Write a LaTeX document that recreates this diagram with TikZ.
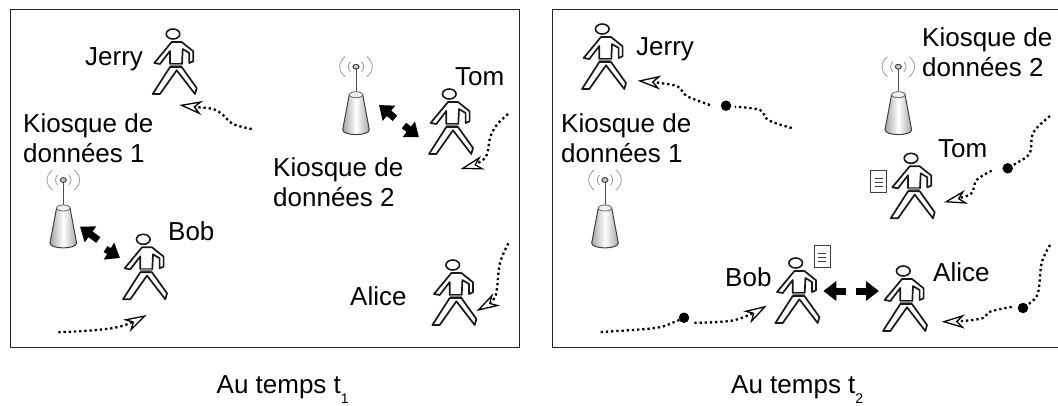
\documentclass[tikz,border=0pt]{standalone}
\usepackage{fontspec}
\setmainfont{Liberation Sans}
\usetikzlibrary{arrows.meta}
\tikzset{
  x=1pt,y=-1pt,
  label text/.style={inner sep=0pt,anchor=base west,align=left,font=\fontsize{26}{30}\selectfont},
  panel/.style={draw=black!85,line width=1pt},
  traj/.style={line width=2.3pt,dash pattern=on 2.3pt off 2.9pt,black,
    -{Stealth[open,fill=white,length=23pt,width=14pt,inset=7pt,line width=1.3pt]}},
  trajplain/.style={line width=2.3pt,dash pattern=on 2.3pt off 2.9pt,black},
  stop/.style={circle,fill=black,inner sep=0pt,minimum size=10.5pt},
  talk/.style={line width=7pt,black,-{Triangle[length=13pt,width=19pt]}},
  doc/.style={draw=black!75,fill=white,line width=1pt,minimum width=16pt,minimum height=22pt,inner sep=0pt,
    path picture={\foreach \yy in {-5.7,-1.7,2.7}
      \draw[black!75,line width=1.1pt] ([shift={(-4pt,\yy pt)}]path picture bounding box.center) -- ++(8pt,0pt);}},
  walker/.pic={
    \draw[black!90,line width=1.7pt,fill=white,line join=round]
      (-1.3,8) -- (8.7,8) -- (20.3,17.3) -- (20.3,27.3) -- (16.3,29) -- (16.3,19) -- (9.7,15)
      -- (9,30) -- (-3,30) -- (-3,17) -- (-13,30) -- (-18.7,29) -- cycle;
    \fill[black!50] (-3,29.5) rectangle (9,33);
    \draw[black!90,line width=1.7pt,fill=white,line join=round]
      (-3,33) -- (8.7,33) -- (23.7,54) -- (22,60) -- (3.7,36.3) -- (-13,60) -- (-20.3,60) -- cycle;
    \draw[black!90,line width=1.6pt,fill=white] (0,0) ellipse [x radius=6.8pt,y radius=5pt];
  },
  kiosk/.pic={
    \draw[black!40,line width=.8pt]
      (5.5,-5) .. controls (8.5,-2) and (8.5,2) .. (5.5,5)
      (-5.5,-5) .. controls (-8.5,-2) and (-8.5,2) .. (-5.5,5)
      (11,-10) .. controls (18,-4) and (18,4) .. (11,10)
      (-11,-10) .. controls (-18,-4) and (-18,4) .. (-11,10);
    \draw[black!70,line width=1pt] (0,2) -- (0,26);
    \draw[black!75,line width=1pt,fill=black!20] (0,0) ellipse [x radius=3pt,y radius=2.4pt];
    \draw[black!75,line width=1pt,left color=black!35,right color=black!35,middle color=white]
      (-6.7,28) -- (-13.3,63) .. controls (-13.3,69.5) and (13.3,69.5) .. (13.3,63) -- (6.7,28) -- cycle;
    \draw[black!60,line width=.8pt,fill=black!6] (0,28) ellipse [x radius=6.7pt,y radius=3pt];
  },
}
\begin{document}
\begin{tikzpicture}
\useasboundingbox (0,0) rectangle (1058,405);
\fill[white] (0,0) rectangle (1058,405);
% panels
\draw[panel] (10,9) rectangle (519,347);
\draw[panel] (1058,9) -- (552,9) -- (552,347) -- (1058,347);

% left panel people and kiosks
\pic (jerryA) at (173,34) {walker};
\pic (bobA) at (143.3,239.3) {walker};
\pic (tomA) at (449.3,94) {walker};
\pic (aliceA) at (452.7,265) {walker};
\pic (kioskOneA) at (63.3,180) {kiosk};
\pic (kioskTwoA) at (356,66.7) {kiosk};

% right panel people and kiosks
\pic (jerryB) at (602.3,29) {walker};
\pic (tomB) at (911,158.3) {walker};
\pic (bobB) at (795.7,263) {walker};
\pic (aliceB) at (903.3,271) {walker};
\pic (kioskOneB) at (605,180) {kiosk};
\pic (kioskTwoB) at (898.3,66.7) {kiosk};

% documents
\node[doc] (docBob) at (822.3,256) {};
\node[doc] (docTom) at (878.8,181) {};

% labels
\node[label text] (lJerryA) at (85,65) {Jerry};
\node[label text] (lTomA) at (455,85) {Tom};
\node[label text] (lBobA) at (168,240) {Bob};
\node[label text] (lAliceA) at (350,305) {Alice};
\node[label text] (lKioskOneA) at (23,132) {Kiosque de};
\node[label text] (lKioskOneA2) at (23,162) {données 1};
\node[label text] (lKioskTwoA) at (273,176) {Kiosque de};
\node[label text] (lKioskTwoA2) at (273,206) {données 2};
\node[label text] (lJerryB) at (636,55) {Jerry};
\node[label text] (lTomB) at (938,157) {Tom};
\node[label text] (lBobB) at (725,286) {Bob};
\node[label text] (lAliceB) at (933,281) {Alice};
\node[label text] (lKioskOneB) at (561,132) {Kiosque de};
\node[label text] (lKioskOneB2) at (561,162.5) {données 1};
\node[label text] (lKioskTwoB) at (922,46) {Kiosque de};
\node[label text] (lKioskTwoB2) at (922,76.5) {données 2};
\node[label text] (capA) at (216.5,393) {Au temps t\raisebox{-10pt}{\fontsize{14}{14}\selectfont 1}};
\node[label text] (capB) at (731,393) {Au temps t\raisebox{-10pt}{\fontsize{14}{14}\selectfont 2}};

% stop markers
\node[stop] (sJerry) at (726,105.7) {};
\node[stop] (sTom) at (1007.7,168.3) {};
\node[stop] (sBob) at (684,317.7) {};
\node[stop] (sAlice) at (1023,308) {};

% exchange arrows
\coordinate (a1t) at (98.3,240); \coordinate (a1h) at (80,226.7);
\coordinate (a2t) at (105.5,249); \coordinate (a2h) at (120,258);
\coordinate (a3t) at (395,118.3); \coordinate (a3h) at (379,105);
\coordinate (a4t) at (404,125.5); \coordinate (a4h) at (419,137.3);
\coordinate (a5t) at (845.7,291); \coordinate (a5h) at (823.3,291);
\coordinate (a6t) at (856,291); \coordinate (a6h) at (879,291);
\foreach \t/\h in {a1t/a1h,a2t/a2h,a3t/a3h,a4t/a4h,a5t/a5h,a6t/a6h}
  \draw[talk] (\t) -- (\h);

% trajectories, left panel
\coordinate (tj1) at (251.7,129); \coordinate (tj2) at (179.3,105);
\draw[traj] plot[smooth,tension=.6] coordinates {(tj1) (233,124) (223,115) (213,109) (193,106.7) (tj2)};
\coordinate (tt1) at (508,114); \coordinate (tt2) at (460.7,169);
\draw[traj] plot[smooth,tension=.6] coordinates {(tt1) (496.7,125) (490,138) (486.7,155) (478,163) (tt2)};
\coordinate (tb1) at (58.3,332.3); \coordinate (tb2) at (146.7,315);
\draw[traj] plot[smooth,tension=.6] coordinates {(tb1) (96.7,330) (123,325.7) (tb2)};
\coordinate (ta1) at (508.3,243.3); \coordinate (ta2) at (476.7,311);
\draw[traj] plot[smooth,tension=.6] coordinates {(ta1) (500,263) (496.7,290) (493,300) (ta2)};

% trajectories, right panel
\coordinate (uj1) at (791.7,128); \coordinate (uj2) at (637.7,80.7);
\draw[trajplain] plot[smooth,tension=.6] coordinates {(uj1) (768,120) (760,110) (735,106.7)};
\draw[traj] plot[smooth,tension=.6] coordinates {(710,105) (686.7,96) (678,86.7) (660,83) (uj2)};
\coordinate (ut1) at (1050,116); \coordinate (ut2) at (944,202.3);
\draw[trajplain] plot[smooth,tension=.6] coordinates {(ut1) (1033,133) (1030,153) (1016.7,163) (sTom)};
\draw[traj] plot[smooth,tension=.6] coordinates {(991.7,170.7) (976.7,180) (971.7,193) (960,198) (ut2)};
\coordinate (ub1) at (600.7,332); \coordinate (ub2) at (766.7,305.7);
\draw[trajplain] plot[smooth,tension=.6] coordinates {(ub1) (655,328) (675,321.7) (sBob)};
\draw[traj] plot[smooth,tension=.6] coordinates {(694.3,322.7) (735,320) (ub2)};
\coordinate (ua1) at (1050,245); \coordinate (ua2) at (941.7,321.7);
\draw[trajplain] plot[smooth,tension=.6] coordinates {(ua1) (1041.7,263) (1038,293) (1030,303) (sAlice)};
\draw[traj] plot[smooth,tension=.6] coordinates {(1011.7,307) (990,311.7) (983,318) (963,321) (ua2)};
\end{tikzpicture}
\end{document}
